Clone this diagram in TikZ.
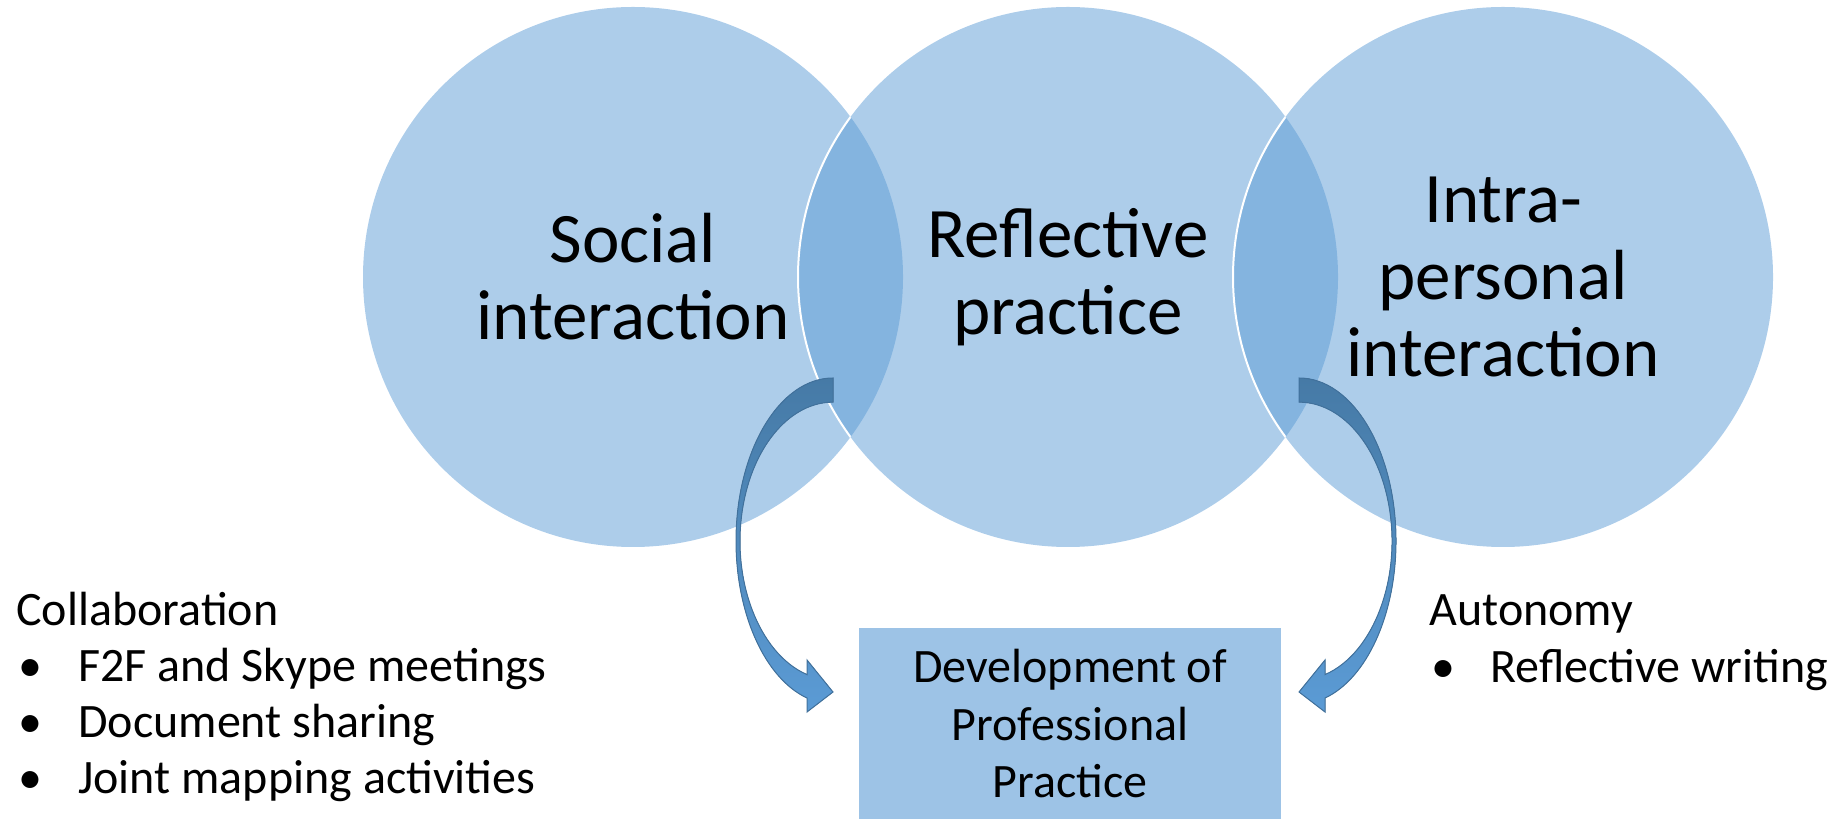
\documentclass[tikz,border=0pt]{standalone}
\usepackage{fontspec}
\setmainfont{Carlito}
\usetikzlibrary{positioning}

\definecolor{vennblue}{HTML}{5B9BD5}
\definecolor{boxblue}{HTML}{9DC3E6}
\definecolor{arrowtop}{HTML}{467AA6}
\definecolor{arrowline}{HTML}{41719C}
\newcommand{\itm}[2][31pt]{\makebox[#1][l]{\hspace{1pt}•}#2}

\begin{document}
\begin{tikzpicture}[x=0.5pt,y=0.5pt,
  venn/.style={circle,minimum size=270pt,inner sep=0pt,fill=vennblue,fill opacity=0.5,text opacity=1,align=center,font=\fontsize{35.5}{38.5}\selectfont},
  devbox/.style={fill=boxblue,minimum width=211pt,minimum height=95.35pt,inner sep=0pt,align=center,font=\fontsize{24}{28.75}\selectfont},
  listline/.style={anchor=base west,inner sep=0pt,font=\fontsize{24}{28}\selectfont},
  curvarrow/.style={top color=arrowtop,bottom color=vennblue,draw=arrowline,line width=0.5pt}]
\useasboundingbox (0,0) rectangle (1839,819);

%Circles
\node[venn] (social) at (633,542) {\raisebox{1.2pt}{\parbox{200pt}{\centering Social\\interaction}}};
\node[venn] (reflect) at (1068,542) {\raisebox{1.2pt}{\parbox{200pt}{\centering Reflective\\practice}}};
\node[venn] (intra) at (1503,542) {Intra-\\personal\\interaction};

\begin{scope}
\clip (social.center) circle (270);
\draw[white,line width=1pt] (reflect.center) circle (270);
\end{scope}
\begin{scope}
\clip (reflect.center) circle (270);
\draw[white,line width=1pt] (intra.center) circle (270);
\end{scope}

%Box
\node[devbox] (dev) at (1070,95.35) {Development of\\Professional\\Practice};

%Arrows
\coordinate (ltail) at (833,441);
\coordinate (rtail) at (1299,441);
\filldraw[curvarrow] (ltail) arc[start angle=90,end angle=254.45,x radius=97,y radius=163]
  -- (807,107) -- (833,127) -- (807,159) -- (807,144.4)
  arc[start angle=253.76,end angle=90,x radius=93,y radius=139] -- cycle;
\filldraw[curvarrow] (rtail) arc[start angle=90,end angle=-74.45,x radius=97,y radius=163]
  -- (1325,107) -- (1299,127) -- (1325,159) -- (1325,144.4)
  arc[start angle=-73.76,end angle=90,x radius=93,y radius=139] -- cycle;

%Lists
\node[listline] (collab) at (16,194) {Collaboration};
\node[listline] (f2f) at (16,137.3) {\itm{F2F and Skype meetings}};
\node[listline] (docshare) at (16,81.3) {\itm{Document sharing}};
\node[listline] (jointmap) at (16,25.7) {\itm{Joint mapping activities}};

\node[listline] (autonomy) at (1429,193) {Autonomy};
\node[listline] (refwrite) at (1429,136.3) {\itm[30.5pt]{Reflective writing}};

\end{tikzpicture}
\end{document}
